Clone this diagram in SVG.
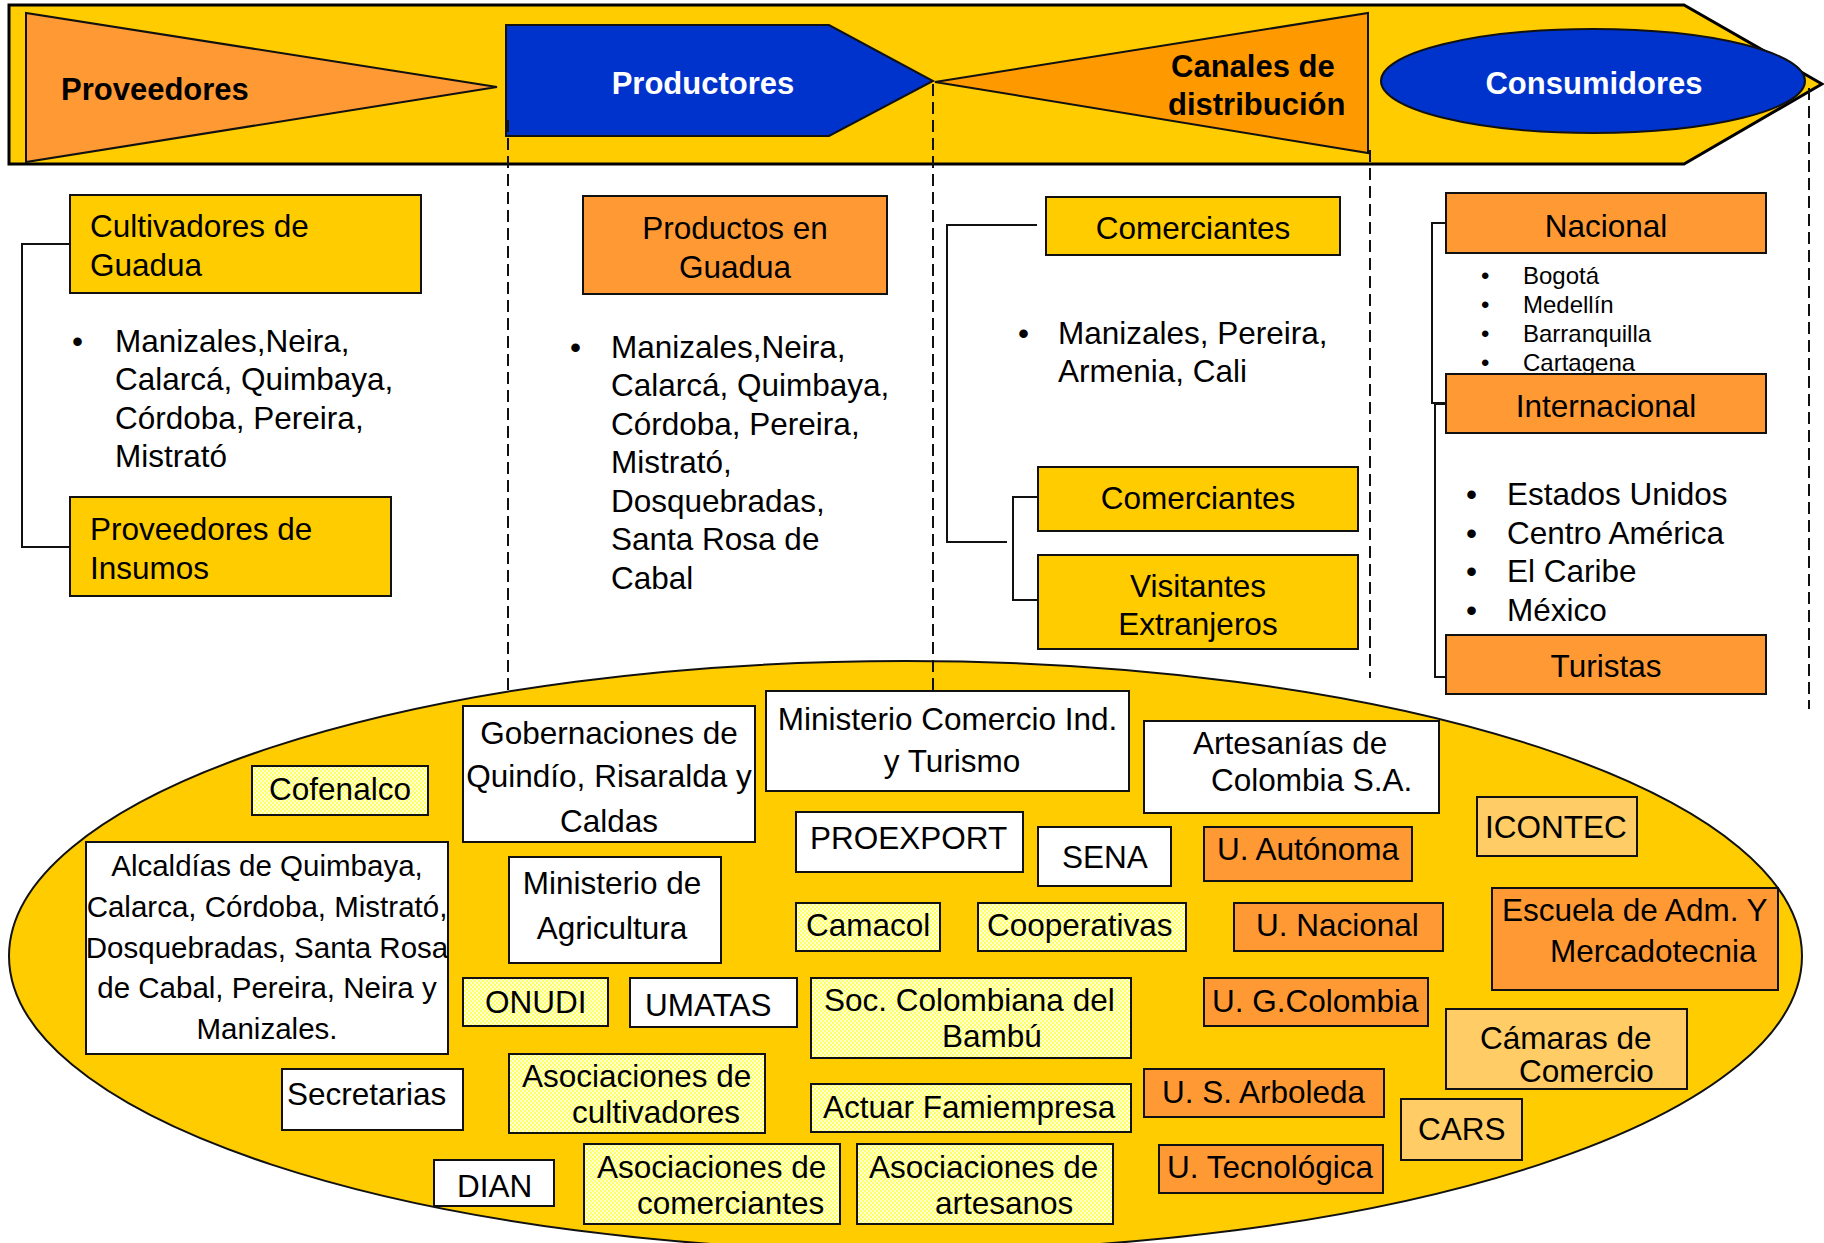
<svg xmlns="http://www.w3.org/2000/svg" width="1824" height="1243" viewBox="0 0 1824 1243">
<style>
text{font-family:"Liberation Sans",Arial,sans-serif;font-size:31.5px;fill:#000;transform:translate(0px,1.5px)}
.b{font-weight:bold;font-size:31px}
.w{fill:#fff}
.c{text-anchor:middle}
.sm{font-size:24px}
.al{font-size:29.5px}
.box{stroke:#111;stroke-width:2}
.y{fill:#FFCC00}
.o{fill:#FF9933}
.lo{fill:#FFCC66}
.wh{fill:#fff}
.p{fill:url(#chk)}
.ln{fill:none;stroke:#111;stroke-width:2}
.dash{fill:none;stroke:#111;stroke-width:2;stroke-dasharray:12 6}
</style>
<defs>
<pattern id="chk" patternUnits="userSpaceOnUse" width="4" height="4">
<rect width="4" height="4" fill="#FFFF66"/>
<rect width="2" height="2" fill="#FFFFD6"/>
<rect x="2" y="2" width="2" height="2" fill="#FFFFD6"/>
</pattern>
</defs>
<rect width="1824" height="1243" fill="#fff"/>

<g id="banner">
<path d="M9,5 H1684 L1822,84 L1684,164 H9 Z" fill="#FFCC00" stroke="#000" stroke-width="3"/>
</g>
<g id="proveedores">
<path d="M26,13 L26,162 L497,87 Z" fill="#FF9933" stroke="#111" stroke-width="2"/>
<text class="b" x="61" y="98">Proveedores</text>
</g>
<g id="productores">
<path d="M506,25 H829 L933,81 L829,136 H506 Z" fill="#0033CC" stroke="#111" stroke-width="2"/>
<text class="b w c" x="703" y="92">Productores</text>
</g>
<g id="canales">
<path d="M935,82 L1368,13 L1368,153 Z" fill="#FF9900" stroke="#111" stroke-width="2"/>
<text class="b" x="1171" y="75">Canales de</text>
<text class="b" x="1168" y="113">distribución</text>
</g>
<g id="consumidores">
<ellipse cx="1593" cy="81" rx="212" ry="52" fill="#0033CC" stroke="#111" stroke-width="2"/>
<text class="b w c" x="1594" y="92">Consumidores</text>
</g>

<g id="ellipse">
<ellipse cx="905.5" cy="956" rx="896.5" ry="295" fill="#FFCC00" stroke="#111" stroke-width="2"/>
</g>

<g id="connectors">
<path class="dash" d="M508,120 V692"/>
<path class="dash" d="M933,84 V690"/>
<path class="dash" d="M1370,150 V678"/>
<path class="dash" d="M1809,88 V709"/>
<path class="ln" d="M69,244 H22 V547 H69"/>
<path class="ln" d="M1037,225 H947 V542 H1007"/>
<path class="ln" d="M1038,497 H1013 V600 H1038"/>
<path class="ln" d="M1446,223 H1432 V403 H1446"/>
<path class="ln" d="M1446,404 H1435 V677 H1446"/>
</g>

<g id="cultivadores">
<rect class="box y" x="70" y="195" width="351" height="98"/>
<text x="90" y="235">Cultivadores de</text>
<text x="90" y="274">Guadua</text>
</g>
<g id="lista-proveedores">
<text x="72" y="350">•</text>
<text x="115" y="350">Manizales,Neira,</text>
<text x="115" y="388">Calarcá, Quimbaya,</text>
<text x="115" y="427">Córdoba, Pereira,</text>
<text x="115" y="465">Mistrató</text>
</g>
<g id="insumos">
<rect class="box y" x="70" y="497" width="321" height="99"/>
<text x="90" y="538">Proveedores de</text>
<text x="90" y="577">Insumos</text>
</g>

<g id="productos">
<rect class="box o" x="583" y="196" width="304" height="98"/>
<text class="c" x="735" y="237">Productos en</text>
<text class="c" x="735" y="276">Guadua</text>
</g>
<g id="lista-productores">
<text x="570" y="356">•</text>
<text x="611" y="356">Manizales,Neira,</text>
<text x="611" y="394.5">Calarcá, Quimbaya,</text>
<text x="611" y="433">Córdoba, Pereira,</text>
<text x="611" y="471.5">Mistrató,</text>
<text x="611" y="510">Dosquebradas,</text>
<text x="611" y="548.5">Santa Rosa de</text>
<text x="611" y="587">Cabal</text>
</g>

<g id="comerciantes1">
<rect class="box y" x="1046" y="197" width="294" height="58"/>
<text class="c" x="1193" y="237">Comerciantes</text>
</g>
<g id="lista-canales">
<text x="1018" y="342">•</text>
<text x="1058" y="342">Manizales, Pereira,</text>
<text x="1058" y="380">Armenia, Cali</text>
</g>
<g id="comerciantes2">
<rect class="box y" x="1038" y="467" width="320" height="64"/>
<text class="c" x="1198" y="507">Comerciantes</text>
</g>
<g id="visitantes">
<rect class="box y" x="1038" y="555" width="320" height="94"/>
<text class="c" x="1198" y="595">Visitantes</text>
<text class="c" x="1198" y="633">Extranjeros</text>
</g>

<g id="nacional">
<rect class="box o" x="1446" y="193" width="320" height="60"/>
<text class="c" x="1606" y="235">Nacional</text>
</g>
<g id="lista-nacional">
<text class="sm" x="1481" y="282">•</text>
<text class="sm" x="1523" y="282">Bogotá</text>
<text class="sm" x="1481" y="311">•</text>
<text class="sm" x="1523" y="311">Medellín</text>
<text class="sm" x="1481" y="340">•</text>
<text class="sm" x="1523" y="340">Barranquilla</text>
<text class="sm" x="1481" y="369">•</text>
<text class="sm" x="1523" y="369">Cartagena</text>
</g>
<g id="internacional">
<rect class="box o" x="1446" y="374" width="320" height="59"/>
<text class="c" x="1606" y="415">Internacional</text>
</g>
<g id="lista-internacional">
<text x="1466" y="503">•</text>
<text x="1507" y="503">Estados Unidos</text>
<text x="1466" y="542">•</text>
<text x="1507" y="542">Centro América</text>
<text x="1466" y="580">•</text>
<text x="1507" y="580">El Caribe</text>
<text x="1466" y="619">•</text>
<text x="1507" y="619">México</text>
</g>
<g id="turistas">
<rect class="box o" x="1446" y="635" width="320" height="59"/>
<text class="c" x="1606" y="675">Turistas</text>
</g>

<g id="cofenalco"><rect class="box p" x="252" y="766" width="176" height="49"/><text class="c" x="340" y="798">Cofenalco</text></g>
<g id="alcaldias"><rect class="box wh" x="86" y="842" width="362" height="212"/>
<text class="c al" x="267" y="874">Alcaldías de Quimbaya,</text>
<text class="c al" x="267" y="915">Calarca, Córdoba, Mistrató,</text>
<text class="c al" x="267" y="956">Dosquebradas, Santa Rosa</text>
<text class="c al" x="267" y="996">de Cabal, Pereira, Neira y</text>
<text class="c al" x="267" y="1037">Manizales.</text></g>
<g id="secretarias"><rect class="box wh" x="282" y="1069" width="181" height="61"/><text x="287" y="1103">Secretarias</text></g>
<g id="dian"><rect class="box wh" x="434" y="1160" width="120" height="46"/><text x="457" y="1195">DIAN</text></g>
<g id="gobernaciones"><rect class="box wh" x="463" y="706" width="292" height="136"/>
<text class="c" x="609" y="742">Gobernaciones de</text>
<text class="c" x="609" y="785">Quindío, Risaralda y</text>
<text class="c" x="609" y="830">Caldas</text></g>
<g id="min-agricultura"><rect class="box wh" x="509" y="857" width="212" height="106"/>
<text class="c" x="612" y="892">Ministerio de</text>
<text class="c" x="612" y="937">Agricultura</text></g>
<g id="onudi"><rect class="box p" x="463" y="978" width="145" height="48"/><text x="485" y="1011">ONUDI</text></g>
<g id="umatas"><rect class="box wh" x="630" y="978" width="167" height="49"/><text x="645" y="1014">UMATAS</text></g>
<g id="asoc-cultivadores"><rect class="box p" x="509" y="1054" width="256" height="79"/>
<text x="522" y="1085">Asociaciones de</text>
<text x="572" y="1121">cultivadores</text></g>
<g id="asoc-comerciantes"><rect class="box p" x="584" y="1144" width="256" height="80"/>
<text x="597" y="1176">Asociaciones de</text>
<text x="637" y="1212">comerciantes</text></g>
<g id="min-comercio"><rect class="box wh" x="766" y="691" width="363" height="100"/>
<text class="c" x="947.5" y="728">Ministerio Comercio Ind.</text>
<text class="c" x="952" y="770">y Turismo</text></g>
<g id="proexport"><rect class="box wh" x="796" y="812" width="227" height="60"/><text x="810" y="847">PROEXPORT</text></g>
<g id="camacol"><rect class="box p" x="796" y="903" width="144" height="48"/><text x="806" y="934">Camacol</text></g>
<g id="soc-bambu"><rect class="box p" x="811" y="978" width="320" height="80"/>
<text x="824" y="1009">Soc. Colombiana del</text>
<text x="942" y="1045">Bambú</text></g>
<g id="actuar"><rect class="box p" x="811" y="1084" width="320" height="48"/><text x="823" y="1116">Actuar Famiempresa</text></g>
<g id="asoc-artesanos"><rect class="box p" x="857" y="1144" width="256" height="80"/>
<text x="869" y="1176">Asociaciones de</text>
<text x="935" y="1212">artesanos</text></g>
<g id="sena"><rect class="box wh" x="1038" y="827" width="133" height="59"/><text x="1062" y="866">SENA</text></g>
<g id="cooperativas"><rect class="box p" x="978" y="903" width="208" height="48"/><text x="987" y="934">Cooperativas</text></g>
<g id="artesanias"><rect class="box wh" x="1144" y="721" width="295" height="92"/>
<text x="1193" y="752">Artesanías de</text>
<text x="1211" y="789">Colombia S.A.</text></g>
<g id="u-autonoma"><rect class="box o" x="1204" y="827" width="208" height="54"/><text x="1217" y="858">U. Autónoma</text></g>
<g id="u-nacional"><rect class="box o" x="1234" y="903" width="209" height="48"/><text x="1256" y="934">U. Nacional</text></g>
<g id="u-gcolombia"><rect class="box o" x="1204" y="978" width="224" height="48"/><text x="1212" y="1010">U. G.Colombia</text></g>
<g id="u-arboleda"><rect class="box o" x="1144" y="1069" width="240" height="48"/><text x="1162" y="1101">U. S. Arboleda</text></g>
<g id="u-tecnologica"><rect class="box o" x="1159" y="1145" width="224" height="48"/><text x="1167" y="1176">U. Tecnológica</text></g>
<g id="icontec"><rect class="box lo" x="1477" y="797" width="160" height="59"/><text x="1485" y="836">ICONTEC</text></g>
<g id="escuela"><rect class="box o" x="1492" y="888" width="286" height="102"/>
<text x="1502" y="919">Escuela de Adm. Y</text>
<text x="1550" y="960">Mercadotecnia</text></g>
<g id="camaras"><rect class="box lo" x="1446" y="1009" width="241" height="80"/>
<text x="1480" y="1047">Cámaras de</text>
<text x="1519" y="1080">Comercio</text></g>
<g id="cars"><rect class="box lo" x="1401" y="1099" width="121" height="61"/><text x="1418" y="1138">CARS</text></g>
</svg>
